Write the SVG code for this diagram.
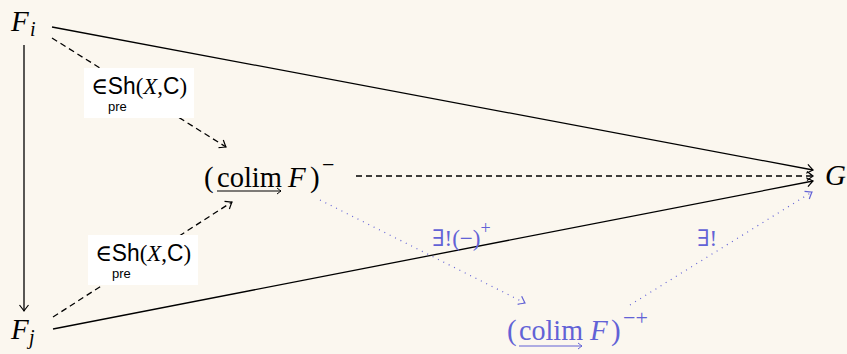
<svg xmlns="http://www.w3.org/2000/svg" width="847" height="354" viewBox="0 0 847 354">
<style>
.m{font-family:"Liberation Serif","Times New Roman",serif;font-size:29px;fill:#000}
.it{font-style:italic}
.sf{font-family:"Liberation Sans",Arial,sans-serif}
.lab{font-family:"Liberation Serif","DejaVu Serif",serif;font-size:23px}
.blue{fill:#6262d6}
.ln{fill:none;stroke:#000;stroke-width:1.3}
.dash{stroke-dasharray:6 4}
.dot{fill:none;stroke:#6262d6;stroke-width:1.2;stroke-dasharray:1 5}
.box{fill:#fff}
</style>
<defs>
<marker id="ah" viewBox="-8 -6 10 12" markerWidth="10" markerHeight="12" refX="0" refY="0" orient="auto" markerUnits="userSpaceOnUse">
<path d="M-6,-4.5 Q-1.5,-1 0,0 Q-1.5,1 -6,4.5" fill="none" stroke="#000" stroke-width="1.2"/>
</marker>
<marker id="ahb" viewBox="-8 -6 10 12" markerWidth="10" markerHeight="12" refX="0" refY="0" orient="auto" markerUnits="userSpaceOnUse">
<path d="M-6,-4.5 Q-1.5,-1 0,0 Q-1.5,1 -6,4.5" fill="none" stroke="#6262d6" stroke-width="1.2"/>
</marker>
<marker id="sa" viewBox="-6 -4 7 8" markerWidth="7" markerHeight="8" refX="0" refY="0" orient="auto" markerUnits="userSpaceOnUse">
<path d="M-4,-3 Q-1,-0.7 0,0 Q-1,0.7 -4,3" fill="none" stroke="#000" stroke-width="1"/>
</marker>
<marker id="sab" viewBox="-6 -4 7 8" markerWidth="7" markerHeight="8" refX="0" refY="0" orient="auto" markerUnits="userSpaceOnUse">
<path d="M-4,-3 Q-1,-0.7 0,0 Q-1,0.7 -4,3" fill="none" stroke="#6262d6" stroke-width="1"/>
</marker>
</defs>
<rect width="847" height="354" fill="#fbf7ef"/>

<g id="connectors">
<line class="ln" x1="24" y1="45" x2="24" y2="311" marker-end="url(#ah)"/>
<line class="ln" x1="52" y1="27" x2="813" y2="170" marker-end="url(#ah)"/>
<line class="ln" x1="53" y1="329" x2="813" y2="181" marker-end="url(#ah)"/>
<line class="ln dash" x1="52" y1="38" x2="226" y2="147" marker-end="url(#ah)"/>
<line class="ln dash" x1="53" y1="317" x2="232" y2="202" marker-end="url(#ah)"/>
<line class="ln dash" x1="356" y1="176" x2="813" y2="176" marker-end="url(#ah)"/>
<line class="dot" x1="320" y1="200" x2="525" y2="303" marker-end="url(#ahb)"/>
<line class="dot" x1="630" y1="305" x2="812" y2="192" marker-end="url(#ahb)"/>
</g>

<g id="label-top">
<rect class="box" x="84" y="68" width="110" height="50"/>
<text class="lab" x="91" y="94" textLength="96" lengthAdjust="spacingAndGlyphs">∈<tspan class="sf">Sh</tspan>(<tspan class="it">X</tspan>,<tspan class="sf">C</tspan>)</text>
<text class="sf" x="108" y="111" font-size="13">pre</text>
</g>
<g id="label-bottom">
<rect class="box" x="88" y="235" width="110" height="50"/>
<text class="lab" x="95" y="261" textLength="96" lengthAdjust="spacingAndGlyphs">∈<tspan class="sf">Sh</tspan>(<tspan class="it">X</tspan>,<tspan class="sf">C</tspan>)</text>
<text class="sf" x="112" y="278" font-size="13">pre</text>
</g>
<g id="label-plus">
<text class="lab blue" y="246"><tspan x="432">∃!(−)</tspan><tspan font-size="18" dy="-12">+</tspan></text>
</g>
<g id="label-unique">
<text class="lab blue" x="697" y="246">∃!</text>
</g>

<g id="Fi">
<text class="m" y="31"><tspan class="it" x="11">F</tspan><tspan class="it" font-size="20" x="30" dy="5">i</tspan></text>
</g>
<g id="Fj">
<text class="m" y="339"><tspan class="it" x="11">F</tspan><tspan class="it" font-size="20" x="29" dy="5">j</tspan></text>
</g>
<g id="G">
<text class="m it" x="825" y="185">G</text>
</g>
<g id="colimMinus">
<text class="m" y="187"><tspan x="204">(</tspan><tspan x="217" textLength="65" lengthAdjust="spacingAndGlyphs">colim</tspan><tspan class="it" x="288">F</tspan><tspan x="310">)</tspan><tspan font-size="22" x="322" dy="-15">−</tspan></text>
<line x1="217" y1="191" x2="281" y2="191" stroke="#000" stroke-width="1.1" marker-end="url(#sa)"/>
</g>
<g id="colimMinusPlus">
<text class="m blue" y="340"><tspan x="507">(</tspan><tspan x="519" textLength="64" lengthAdjust="spacingAndGlyphs">colim</tspan><tspan class="it" x="590">F</tspan><tspan x="611">)</tspan><tspan font-size="22" x="623" dy="-15">−+</tspan></text>
<line x1="519" y1="346" x2="582" y2="346" stroke="#6262d6" stroke-width="1.1" marker-end="url(#sab)"/>
</g>
</svg>
